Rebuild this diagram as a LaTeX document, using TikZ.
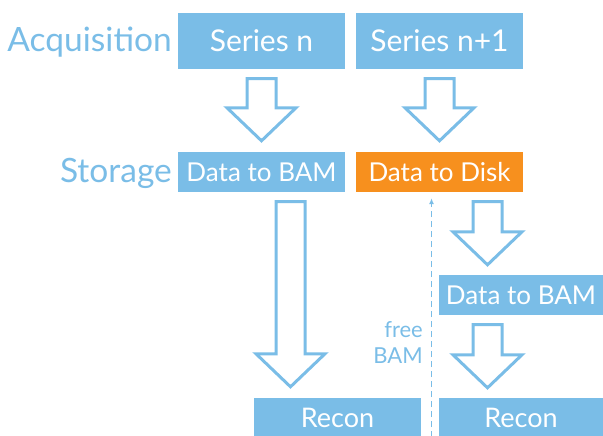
\documentclass[tikz,border=0pt]{standalone}
\usepackage{fontspec}
\setmainfont{Lato}
\usetikzlibrary{calc,arrows.meta}
\definecolor{geblue}{HTML}{7ABDE7}
\definecolor{georange}{HTML}{F7901E}
\tikzset{
  box/.style={rectangle, fill=geblue, text=white, inner sep=0pt, minimum height=40pt, minimum width=167pt},
  seriesbox/.style={box, minimum height=56pt, font=\fontsize{30}{36}\selectfont},
  databox/.style={box, font=\fontsize{26}{31}\selectfont},
  reconbox/.style={box, font=\fontsize{27}{32}\selectfont},
  rowlabel/.style={text=geblue, inner sep=0pt, anchor=base east, font=\fontsize{33.5}{40}\selectfont},
  barrowstyle/.style={draw=geblue, fill=white, line width=3pt, line join=miter},
  dasharrow/.style={draw=geblue, line width=1.3pt, dash pattern=on 6pt off 4pt, -{Latex[length=6pt,width=5pt]}},
}
\newcommand\blockarrow[2]{%
  \draw[barrowstyle] let \p1=(#1), \p2=(#2) in
    (\x1-14.5pt,\y1) -- (\x1-14.5pt,\y2+33pt) -- (\x1-34.5pt,\y2+33pt) -- (\x1,\y2)
    -- (\x1+34.5pt,\y2+33pt) -- (\x1+14.5pt,\y2+33pt) -- (\x1+14.5pt,\y1) -- cycle;}
\begin{document}
\begin{tikzpicture}[x=1pt,y=-1pt]
\useasboundingbox (0,0) rectangle (603,436);
% row labels
\node[rowlabel] (acq) at (172,52) {Acquisition};
\node[rowlabel] (stor) at (172,182) {Storage};
% boxes
\node[seriesbox] (sn) at (261.5,41) {Series n};
\node[seriesbox] (sn1) at (439.5,41) {Series n+1};
\node[databox] (dbam1) at (261.5,172) {Data to BAM};
\node[databox, fill=georange] (ddisk) at (439.5,172) {Data to Disk};
\node[databox, minimum width=164pt] (dbam2) at (521,295) {Data to BAM};
\node[reconbox] (recon1) at (337.5,418) {Recon};
\node[reconbox, minimum width=164pt] (recon2) at (521,418) {Recon};
% free BAM label
\node[text=geblue, inner sep=0pt, align=right, anchor=south east,
      font=\fontsize{22}{26}\selectfont] (free) at (423,364) {free\\BAM};
% block arrows
\blockarrow{$(sn.south)+(0,9.5)$}{$(dbam1.north)+(0,-11)$}
\blockarrow{$(sn1.south)+(0,9.5)$}{$(ddisk.north)+(0,-11)$}
\blockarrow{$(dbam1.south)+(29,9.5)$}{$(recon1.north)+(0,-11)$}
\blockarrow{$(ddisk.south)+(48,9.5)$}{$(dbam2.north)+(0,-10)$}
\blockarrow{$(dbam2.south)+(-33.5,9.5)$}{$(recon2.north)+(0,-10)$}
% free BAM dashed arrow
\coordinate (fb) at (431.5,437);
\draw[dasharrow] (fb) -- ($(ddisk.south)+(-8,6)$);
\end{tikzpicture}
\end{document}
